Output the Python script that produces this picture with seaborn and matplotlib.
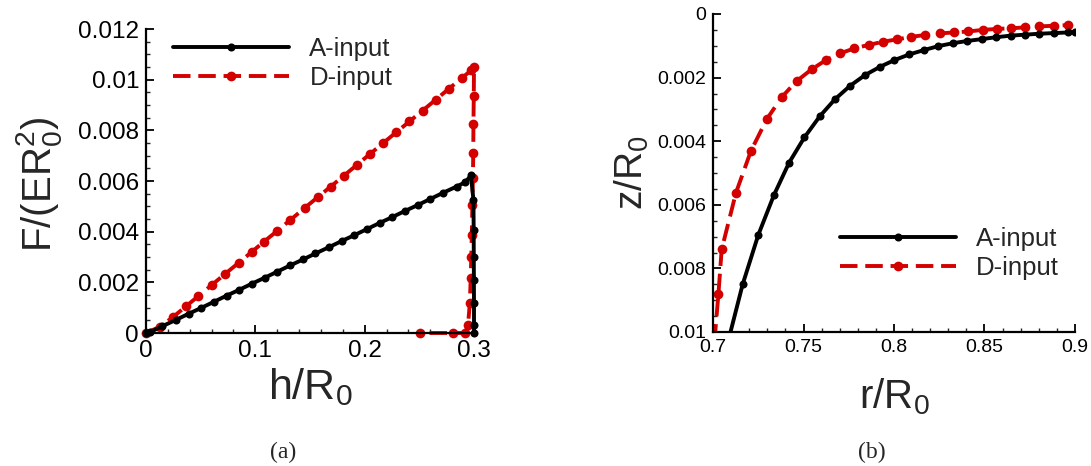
import numpy as np
import pandas as pd
import matplotlib
matplotlib.use("Agg")
import matplotlib.pyplot as plt
from matplotlib.ticker import MultipleLocator, FuncFormatter
import seaborn as sns

# ---------------- data: panel (a) ----------------
a_h = [0.000, 0.004, 0.015, 0.027, 0.039, 0.050, 0.062, 0.074, 0.085, 0.097,
       0.109, 0.120, 0.132, 0.144, 0.155, 0.167, 0.179, 0.190, 0.202, 0.214,
       0.225, 0.237, 0.249, 0.260, 0.272, 0.284, 0.292, 0.2972,
       0.2995, 0.2997, 0.2998, 0.2999, 0.3000, 0.3000, 0.3000]
a_F = [0.00000, 0.00004, 0.00027, 0.00051, 0.00076, 0.00098, 0.00123, 0.00148,
       0.00170, 0.00195, 0.00219, 0.00242, 0.00267, 0.00291, 0.00314, 0.00338,
       0.00363, 0.00385, 0.00410, 0.00435, 0.00457, 0.00482, 0.00506, 0.00529,
       0.00554, 0.00578, 0.00595, 0.00622,
       0.00525, 0.00406, 0.00300, 0.00210, 0.00120, 0.00030, 0.00000]

d_h = [0.000, 0.013, 0.025, 0.037, 0.048, 0.060, 0.072, 0.085, 0.097, 0.108,
       0.120, 0.132, 0.145, 0.157, 0.169, 0.181, 0.193, 0.205, 0.217, 0.229,
       0.241, 0.253, 0.265, 0.277, 0.289, 0.2975, 0.3000,
       0.2998, 0.2995, 0.2993, 0.2990, 0.2985, 0.2980, 0.2975, 0.2970, 0.2962,
       0.2945, 0.2920, 0.2810, 0.2510]
d_F = [0.00000, 0.00025, 0.00064, 0.00107, 0.00146, 0.00189, 0.00232, 0.00278,
       0.00321, 0.00361, 0.00403, 0.00446, 0.00493, 0.00536, 0.00578, 0.00621,
       0.00664, 0.00707, 0.00750, 0.00793, 0.00835, 0.00878, 0.00921, 0.00964,
       0.01007, 0.01037, 0.01050,
       0.00936, 0.00825, 0.00710, 0.00610, 0.00505, 0.00387, 0.00300, 0.00217,
       0.00118, 0.00030, 0.00000, 0.00000, 0.00000]

# ---------------- data: panel (b) ----------------
a_r = [0.7090, 0.7164, 0.7250, 0.7337, 0.7420, 0.7505, 0.7591, 0.7674, 0.7757,
       0.7840, 0.7923, 0.8002, 0.8085, 0.8168, 0.8245, 0.8324, 0.8402, 0.8484,
       0.8564, 0.8645, 0.8724, 0.8803, 0.8884, 0.8963, 0.9000]
a_z = [0.01015, 0.00850, 0.00695, 0.00569, 0.00468, 0.00388, 0.00321, 0.00268,
       0.00226, 0.00192, 0.00166, 0.00145, 0.00127, 0.00113, 0.00101, 0.00092,
       0.00085, 0.00079, 0.00073, 0.00068, 0.00065, 0.00062, 0.00060, 0.00058,
       0.00057]

d_r = [0.7008, 0.7030, 0.7048, 0.7127, 0.7210, 0.7297, 0.7379, 0.7462, 0.7545,
       0.7624, 0.7702, 0.7781, 0.7862, 0.7941, 0.8015, 0.8094, 0.8171, 0.8254,
       0.8331, 0.8411, 0.8490, 0.8567, 0.8645, 0.8724, 0.8803, 0.8884, 0.8963]
d_z = [0.01030, 0.00880, 0.00740, 0.00562, 0.00430, 0.00331, 0.00262, 0.00211,
       0.00174, 0.00145, 0.00124, 0.00108, 0.00097, 0.00087, 0.00080, 0.00072,
       0.00066, 0.00061, 0.00058, 0.00055, 0.00050, 0.00047, 0.00045, 0.00042,
       0.00039, 0.00037, 0.00035]

labels = ["A-input", "D-input"]
a_ticks_x = [0, 0.1, 0.2, 0.3]
a_ticks_y = [0, 0.002, 0.004, 0.006, 0.008, 0.01, 0.012]
b_ticks_x = [0.7, 0.75, 0.8, 0.85, 0.9]
b_ticks_y = [0, 0.002, 0.004, 0.006, 0.008, 0.01]

# ---------------- style ----------------
sns.set_style("white")
plt.rcParams["font.family"] = ["Liberation Sans", "DejaVu Sans"]
plt.rcParams["mathtext.default"] = "regular"

RED = "#D40000"
BLACK = "#000000"
LW = 2.8
DASH = (0, (4.5, 2.0))
MS_A = 5.8
MS_D = 7.0

fig = plt.figure(figsize=(10.91, 4.66), dpi=100)
W, H = 1091.0, 466.0
ax1 = fig.add_axes([146 / W, 1 - 333 / H, (474 - 146) / W, (333 - 29) / H])
ax2 = fig.add_axes([713 / W, 1 - 332 / H, (1075 - 713) / W, (332 - 14) / H])

fmt = FuncFormatter(lambda v, p: f"{v:g}")


def style_axes(ax, tick_fs):
    for s in ["top", "right"]:
        ax.spines[s].set_visible(False)
    for s in ["left", "bottom"]:
        ax.spines[s].set_linewidth(1.6)
        ax.spines[s].set_color("black")
    ax.tick_params(which="major", direction="in", length=6, width=1.3,
                   labelsize=tick_fs, colors="black", pad=5,
                   bottom=True, left=True, top=False, right=False)
    ax.tick_params(which="minor", direction="in", length=3, width=1.0,
                   bottom=True, left=True, top=False, right=False)
    ax.xaxis.set_major_formatter(fmt)
    ax.yaxis.set_major_formatter(fmt)
    ax.grid(False)


# panel (a)
df_a = pd.DataFrame({"h": a_h, "F": a_F})
df_d = pd.DataFrame({"h": d_h, "F": d_F})
sns.lineplot(data=df_a, x="h", y="F", ax=ax1, sort=False, estimator=None,
             color=BLACK, lw=LW, marker="o", markersize=MS_A, markeredgewidth=0,
             label=labels[0], clip_on=False, zorder=3)
sns.lineplot(data=df_d, x="h", y="F", ax=ax1, sort=False, estimator=None,
             color=RED, lw=LW, marker="o", markersize=MS_D, markeredgewidth=0,
             dashes=False, linestyle=DASH,
             label=labels[1], clip_on=False, zorder=2)
ax1.set_xlim(0, 0.3)
ax1.set_ylim(0, 0.012)
ax1.set_xticks(a_ticks_x)
ax1.set_yticks(a_ticks_y)
ax1.xaxis.set_minor_locator(MultipleLocator(0.02))
ax1.yaxis.set_minor_locator(MultipleLocator(0.0005))
style_axes(ax1, 17.5)
ax1.set_xlabel(r"$h/R_0$", fontsize=31)
ax1.set_ylabel(r"$F/(ER_0^2)$", fontsize=29)
ax1.xaxis.set_label_coords(0.5, -0.11)
ax1.yaxis.set_label_coords(-0.25, 0.49)
leg1 = ax1.legend(loc="upper left", bbox_to_anchor=(0.083, 0.975), frameon=False,
                  fontsize=18.5, handlelength=4.5, handletextpad=0.8,
                  labelspacing=0.2, borderpad=0, borderaxespad=0, numpoints=1)

# panel (b)
df_ab = pd.DataFrame({"r": a_r, "z": a_z})
df_db = pd.DataFrame({"r": d_r, "z": d_z})
sns.lineplot(data=df_ab, x="r", y="z", ax=ax2, sort=False, estimator=None,
             color=BLACK, lw=LW, marker="o", markersize=MS_A, markeredgewidth=0,
             label=labels[0], zorder=3)
sns.lineplot(data=df_db, x="r", y="z", ax=ax2, sort=False, estimator=None,
             color=RED, lw=LW, marker="o", markersize=MS_D, markeredgewidth=0,
             dashes=False, linestyle=DASH,
             label=labels[1], zorder=2)
ax2.set_xlim(0.7, 0.9)
ax2.set_ylim(0.01, 0)
ax2.set_xticks(b_ticks_x)
ax2.set_yticks(b_ticks_y)
ax2.xaxis.set_minor_locator(MultipleLocator(0.01))
ax2.yaxis.set_minor_locator(MultipleLocator(0.0005))
style_axes(ax2, 14)
ax2.set_xlabel(r"$r/R_0$", fontsize=29)
ax2.set_ylabel(r"$z/R_0$", fontsize=28)
ax2.xaxis.set_label_coords(0.5, -0.14)
ax2.yaxis.set_label_coords(-0.17, 0.5)
leg2 = ax2.legend(loc="upper left", bbox_to_anchor=(0.351, 0.33), frameon=False,
                  fontsize=18.5, handlelength=4.5, handletextpad=0.8,
                  labelspacing=0.2, borderpad=0, borderaxespad=0, numpoints=1)

# captions
fig.text(283 / W, 1 - 452 / H, "(a)", family="Liberation Serif", fontsize=17,
         ha="center", va="center")
fig.text(872 / W, 1 - 452 / H, "(b)", family="Liberation Serif", fontsize=17,
         ha="center", va="center")

fig.savefig("out.png", dpi=100)
